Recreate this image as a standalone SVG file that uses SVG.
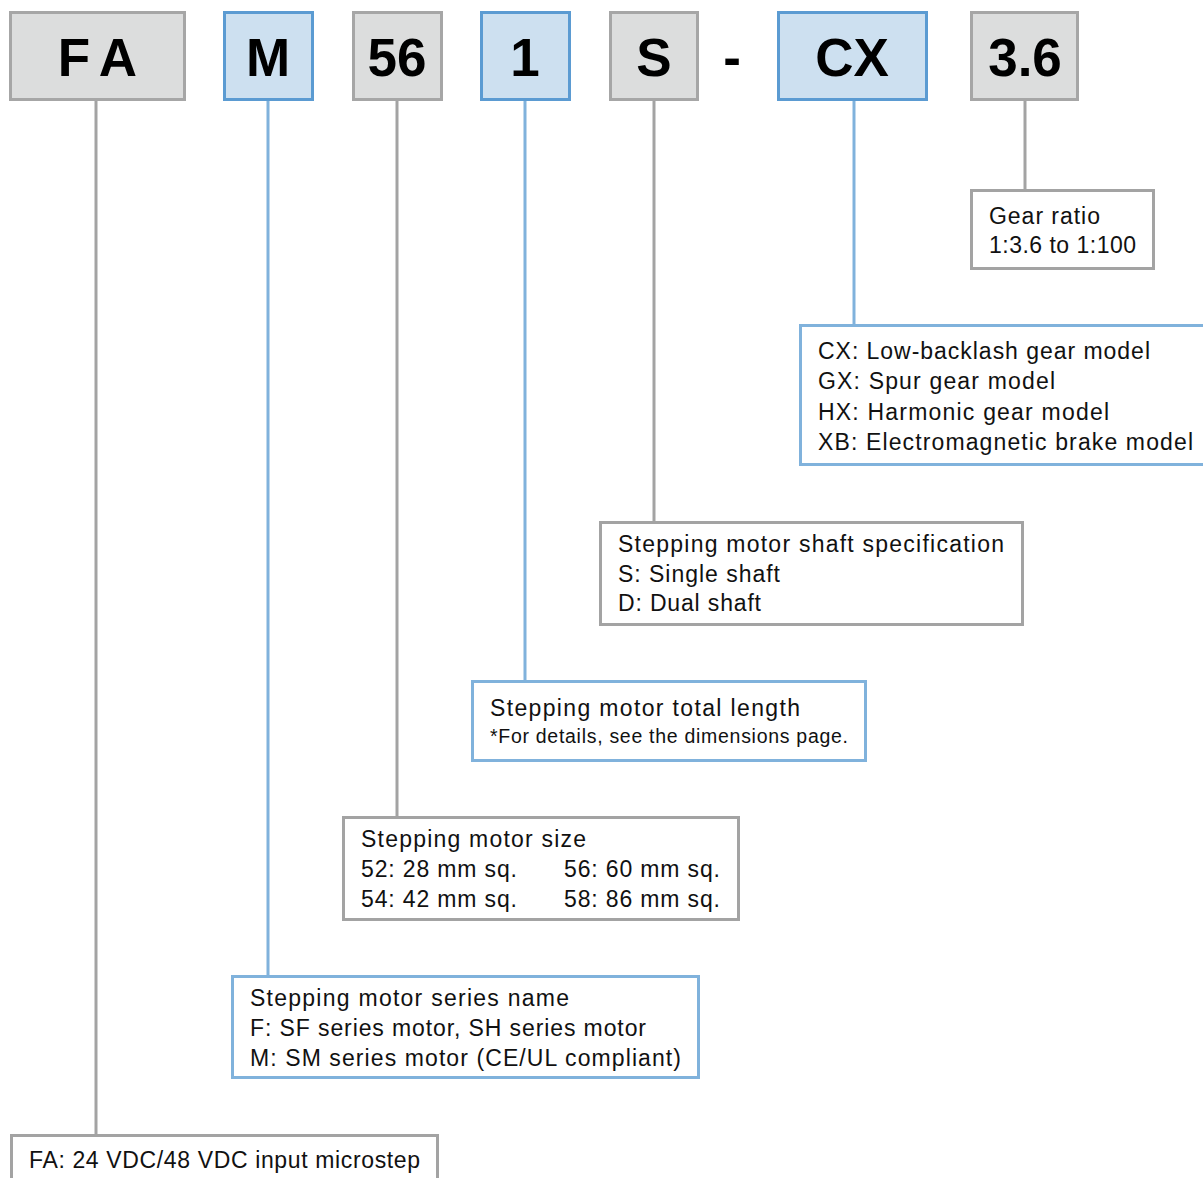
<svg xmlns="http://www.w3.org/2000/svg" width="1203" height="1178" viewBox="0 0 1203 1178">
<style>
.bg{fill:#dcdddd;stroke:#a6a6a6;stroke-width:3}
.bb{fill:#cde0f0;stroke:#5b9bd2;stroke-width:3}
.hd{font-family:"Liberation Sans",Arial,sans-serif;font-weight:bold;font-size:53px;fill:#000;text-anchor:middle}
.lg{fill:#fff;stroke:#a3a3a3;stroke-width:3}
.lb{fill:#fff;stroke:#80b2dc;stroke-width:3}
.t{font-family:"Liberation Sans",Arial,sans-serif;font-size:23px;fill:#111}
.s{font-family:"Liberation Sans",Arial,sans-serif;font-size:19.5px;fill:#111}
.cg{stroke:#a3a3a3;stroke-width:3;fill:none}
.cb{stroke:#80b2dc;stroke-width:3;fill:none}
</style>
<rect width="1203" height="1178" fill="#fff"/>
<g id="connectors">
<line class="cg" x1="96" y1="100" x2="96" y2="1135"/>
<line class="cb" x1="268" y1="100" x2="268" y2="976"/>
<line class="cg" x1="397" y1="100" x2="397" y2="817"/>
<line class="cb" x1="525" y1="100" x2="525" y2="681"/>
<line class="cg" x1="654" y1="100" x2="654" y2="522"/>
<line class="cb" x1="854" y1="100" x2="854" y2="325"/>
<line class="cg" x1="1025" y1="100" x2="1025" y2="190"/>
</g>
<g id="code-FA"><rect class="bg" x="10.5" y="12.5" width="174" height="87"/><text class="hd" x="74" y="76">F</text><text class="hd" x="118" y="76">A</text></g>
<g id="code-M"><rect class="bb" x="224.5" y="12.5" width="88" height="87"/><text class="hd" x="268" y="76">M</text></g>
<g id="code-56"><rect class="bg" x="353.5" y="12.5" width="88" height="87"/><text class="hd" x="397" y="76">56</text></g>
<g id="code-1"><rect class="bb" x="481.5" y="12.5" width="88" height="87"/><text class="hd" x="525" y="76">1</text></g>
<g id="code-S"><rect class="bg" x="610.5" y="12.5" width="87" height="87"/><text class="hd" x="654" y="76">S</text></g>
<g id="dash"><text class="hd" x="732" y="76">-</text></g>
<g id="code-CX"><rect class="bb" x="778.5" y="12.5" width="148" height="87"/><text class="hd" x="852" y="76">CX</text></g>
<g id="code-3.6"><rect class="bg" x="971.5" y="12.5" width="106" height="87"/><text class="hd" x="1025" y="76">3.6</text></g>

<g id="label-gear"><rect class="lg" x="971.5" y="190.5" width="182" height="78"/>
<text class="t" x="989" y="224" textLength="111" lengthAdjust="spacing">Gear ratio</text>
<text class="t" x="989" y="253" textLength="147" lengthAdjust="spacing">1:3.6 to 1:100</text></g>
<g id="label-cx"><rect class="lb" x="800.5" y="325.5" width="410" height="139"/>
<text class="t" x="818" y="359" textLength="332" lengthAdjust="spacing">CX: Low-backlash gear model</text>
<text class="t" x="818" y="389" textLength="237" lengthAdjust="spacing">GX: Spur gear model</text>
<text class="t" x="818" y="420" textLength="291" lengthAdjust="spacing">HX: Harmonic gear model</text>
<text class="t" x="818" y="450" textLength="375" lengthAdjust="spacing">XB: Electromagnetic brake model</text></g>
<g id="label-s"><rect class="lg" x="600.5" y="522.5" width="422" height="102"/>
<text class="t" x="618" y="552" textLength="386" lengthAdjust="spacing">Stepping motor shaft specification</text>
<text class="t" x="618" y="582" textLength="162" lengthAdjust="spacing">S: Single shaft</text>
<text class="t" x="618" y="611" textLength="143" lengthAdjust="spacing">D: Dual shaft</text></g>
<g id="label-1"><rect class="lb" x="472.5" y="681.5" width="393" height="79"/>
<text class="t" x="490" y="716" textLength="310" lengthAdjust="spacing">Stepping motor total length</text>
<text class="s" x="490" y="743" textLength="358" lengthAdjust="spacing">*For details, see the dimensions page.</text></g>
<g id="label-56"><rect class="lg" x="343.5" y="817.5" width="395" height="102"/>
<text class="t" x="361" y="847" textLength="225" lengthAdjust="spacing">Stepping motor size</text>
<text class="t" x="361" y="877" textLength="156" lengthAdjust="spacing">52: 28 mm sq.</text><text class="t" x="564" y="877" textLength="156" lengthAdjust="spacing">56: 60 mm sq.</text>
<text class="t" x="361" y="907" textLength="156" lengthAdjust="spacing">54: 42 mm sq.</text><text class="t" x="564" y="907" textLength="156" lengthAdjust="spacing">58: 86 mm sq.</text></g>
<g id="label-m"><rect class="lb" x="232.5" y="976.5" width="466" height="101"/>
<text class="t" x="250" y="1006" textLength="319" lengthAdjust="spacing">Stepping motor series name</text>
<text class="t" x="250" y="1036" textLength="396" lengthAdjust="spacing">F: SF series motor, SH series motor</text>
<text class="t" x="250" y="1066" textLength="431" lengthAdjust="spacing">M: SM series motor (CE/UL compliant)</text></g>
<g id="label-fa"><rect class="lg" x="11.5" y="1135.5" width="426" height="60"/>
<text class="t" x="29" y="1168" textLength="391" lengthAdjust="spacing">FA: 24 VDC/48 VDC input microstep</text></g>
</svg>
